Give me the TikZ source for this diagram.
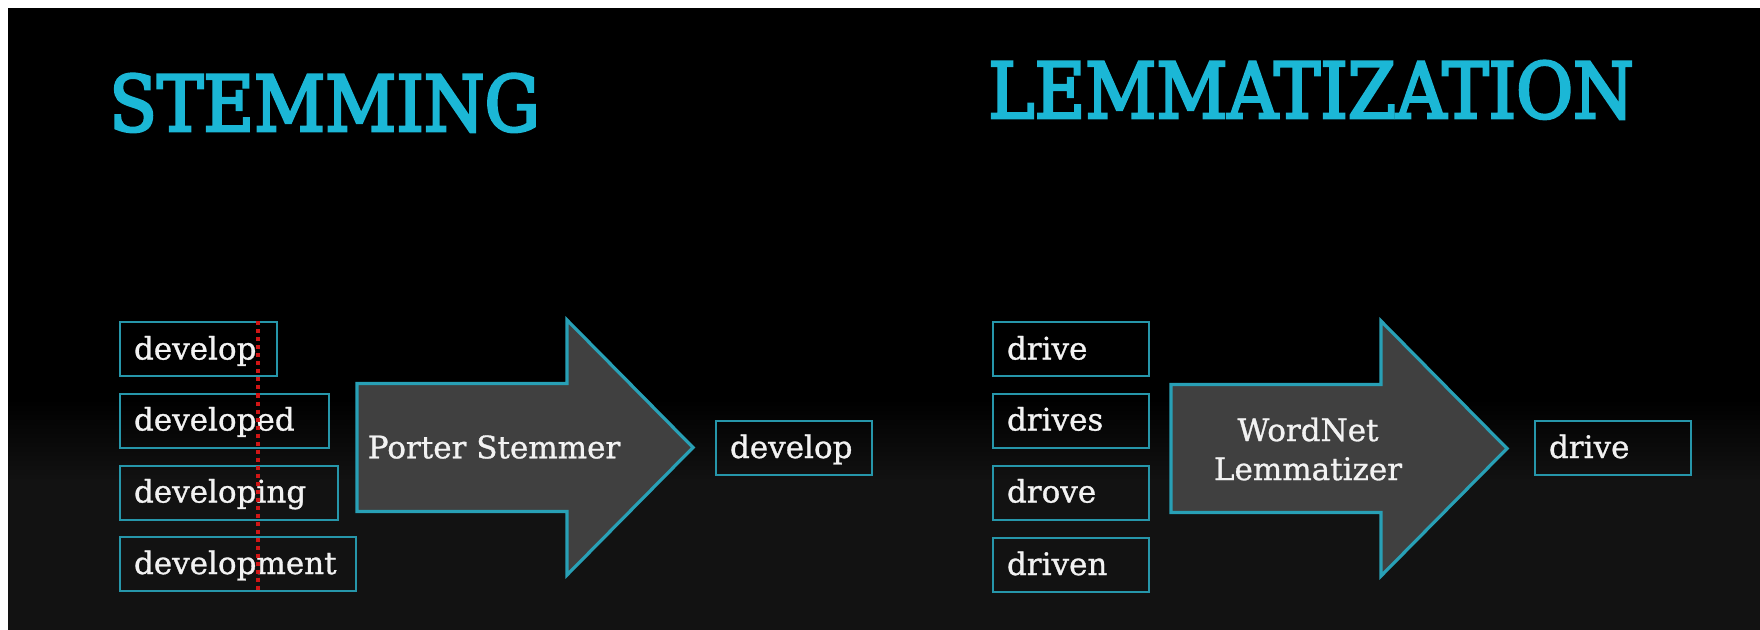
\documentclass[tikz,border=0pt]{standalone}
\usepackage{fontspec}
\setmainfont{DejaVu Serif}[FakeBold=1]
\newfontfamily\headfont{DejaVu Serif}[FakeStretch=0.9,FakeBold=3.5]
\usetikzlibrary{calc}

\definecolor{titlecyan}{RGB}{27,183,214}
\definecolor{boxedge}{RGB}{38,150,170}
\definecolor{arrowedge}{RGB}{40,160,182}
\definecolor{arrowfill}{RGB}{64,64,64}
\definecolor{wordwhite}{RGB}{242,242,242}
\definecolor{dotred}{RGB}{208,22,22}
\definecolor{bgbottom}{RGB}{18,18,18}

\begin{document}
\begin{tikzpicture}[x=0.5pt,y=-0.5pt,
  font=\fontsize{15.5pt}{19.5pt}\selectfont,
  heading/.style={anchor=base west,inner sep=0pt,text=titlecyan,
    font=\headfont\fontsize{38.6pt}{40pt}\selectfont},
  wordbox/.style={draw=boxedge,line width=1pt,anchor=west,align=left,
    text=wordwhite,inner xsep=7pt,text height=12pt,text depth=2pt,
    minimum height=27pt,text width=64pt},
  bigarrow/.style={draw=arrowedge,fill=arrowfill,line width=1.6pt,line join=miter},
  tool/.style={text=wordwhite,align=center},
  cut/.style={draw=dotred,line width=1.7pt,dash pattern=on 2pt off 2pt}]
\def\BodyL{210};
\def\HeadL{126};
\def\BodyW{64};
\def\HeadW{127.5};

\useasboundingbox (0,0) rectangle (1760,630);
% slide background
\fill[white] (0,0) rectangle (1760,630);
\fill[black] (8,8) rectangle (1760,400);
\shade[top color=black,bottom color=bgbottom] (8,399) rectangle (1760,481);
\fill[bgbottom] (8,480) rectangle (1760,630);

\node[heading] (stemhead) at (109,131) {STEMMING};
\node[heading] (lemmahead) at (988,118) {LEMMATIZATION};

% stemming
\node[wordbox,text width=64.5pt] (dev1) at (119,349.5) {develop};
\node[wordbox,text width=90.5pt] (dev2) at (119,420.5) {developed};
\node[wordbox,text width=95pt] (dev3) at (119,492.5) {developing};
\node[wordbox,text width=104pt] (dev4) at (119,564) {development};

\begin{scope}[shift={(357,447.5)}]
\draw[bigarrow] (0,-\BodyW) -- (\BodyL,-\BodyW) -- (\BodyL,-\HeadW)
  -- (\BodyL+\HeadL,0) -- (\BodyL,\HeadW) -- (\BodyL,\BodyW) -- (0,\BodyW) -- cycle;
\end{scope}
\node[tool] (porter) at (494,447) {Porter Stemmer};

\node[wordbox] (stem) at (715,448) {develop};

% where the stem ends
\coordinate (cuttop) at ($(dev1.north east)+(-10pt,0)$);
\draw[cut] (cuttop) -- (cuttop |- dev4.south);

% lemmatization
\node[wordbox] (drv1) at (992,349.5) {drive};
\node[wordbox] (drv2) at (992,420.5) {drives};
\node[wordbox] (drv3) at (992,492.5) {drove};
\node[wordbox] (drv4) at (992,565) {driven};

\begin{scope}[shift={(1171,448.5)}]
\draw[bigarrow] (0,-\BodyW) -- (\BodyL,-\BodyW) -- (\BodyL,-\HeadW)
  -- (\BodyL+\HeadL,0) -- (\BodyL,\HeadW) -- (\BodyL,\BodyW) -- (0,\BodyW) -- cycle;
\end{scope}
\node[tool] (wordnet) at (1308,449) {WordNet\\Lemmatizer};

\node[wordbox] (lemma) at (1534,448) {drive};

\end{tikzpicture}
\end{document}
